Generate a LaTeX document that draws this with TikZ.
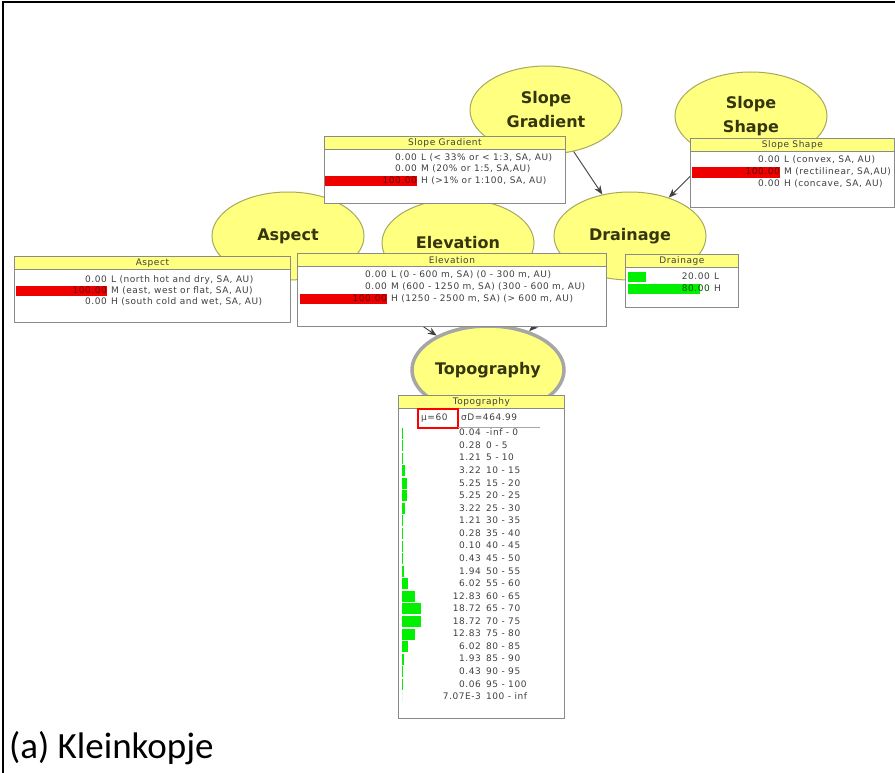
\documentclass[tikz,border=0pt]{standalone}
\usepackage{fontspec}
\setmainfont{DejaVu Sans}
\newfontfamily\capfont{Carlito}
\newfontfamily\boxfont[LetterSpace=6]{DejaVu Sans}
\usetikzlibrary{shapes.geometric,arrows.meta}
\definecolor{bnfill}{HTML}{FFFF80}
\definecolor{bnline}{HTML}{A8A860}
\definecolor{boxline}{HTML}{8A8A8A}
\definecolor{txt}{HTML}{404040}
\definecolor{bntxt}{HTML}{36360E}
\definecolor{barred}{HTML}{EE0000}
\definecolor{bargreen}{HTML}{00F000}
\tikzset{
  bn/.style={ellipse, draw=bnline, fill=bnfill, line width=1pt, minimum width=152pt, minimum height=88pt,
    inner sep=0pt, align=center, text=bntxt, font=\bfseries\fontsize{16}{24}\selectfont},
  topo/.style={draw=gray!70, line width=3.5pt},
  arr/.style={draw=black!75, line width=0.9pt, -{Stealth[length=9pt,width=7pt]}},
  boxbody/.style={draw=boxline, fill=white, line width=0.9pt, inner sep=0pt, anchor=north west},
  titlebar/.style={draw=boxline, fill=bnfill, line width=0.8pt, inner sep=0pt, anchor=north west,
    minimum height=13pt, text=txt, font=\boxfont\fontsize{9}{10}\selectfont},
  val/.style={anchor=mid east, inner sep=0pt, text=txt, font=\boxfont\fontsize{9}{10}\selectfont},
  lab/.style={anchor=mid west, inner sep=0pt, text=txt, font=\boxfont\fontsize{9}{10}\selectfont},
  redval/.style={val, text=black!60!red},
}
\newcommand{\netbox}[6]{%
  \node[boxbody, minimum width={(#4-#2)*1pt}, minimum height={(#5-#3)*1pt}] (#1) at (#2,#3) {};
  \node[titlebar, minimum width={(#4-#2)*1pt}] (#1-t) at (#2,#3) {#6};
}
\begin{document}
\begin{tikzpicture}[x=1pt,y=-1pt]
\useasboundingbox (0,0) rectangle (895,773);
\fill[white] (0,0) rectangle (895,773);
\draw[black, line width=2pt] (2.5,773) -- (2.5,2.5) -- (895,2.5);

% ellipses
\node[bn] (sg) at (546,110) {Slope\\Gradient};
\node[bn] (ss) at (751,116) {Slope\\Shape};
\node[bn] (asp) at (288,236) {Aspect};
\node[bn] (ele) at (458,243) {Elevation};
\node[bn] (dra) at (630,236) {Drainage};
\node[bn, topo] (top) at (488,370) {Topography};

% connectors
\draw[arr] (sg) -- (dra);
\draw[arr] (ss) -- (dra);
\draw[arr] (asp) -- (top);
\draw[arr] (ele) -- (top);
\draw[arr] (dra) -- (top);

% Slope Gradient box
\netbox{sgb}{324}{136}{565}{203}{Slope Gradient}
\fill[barred] (325,176) rectangle (417,186);
\node[val] (sgv1) at (417,158) {0.00}; \node[lab] (sgl1) at (421,158) {L (< 33\% or < 1:3, SA, AU)};
\node[val] (sgv2) at (417,169) {0.00}; \node[lab] (sgl2) at (421,169) {M (20\% or 1:5, SA,AU)};
\node[redval] (sgv3) at (417,181) {100.00}; \node[lab] (sgl3) at (421,181) {H (>1\% or 1:100, SA, AU)};

% Slope Shape box
\netbox{ssb}{690}{138}{894}{207}{Slope Shape}
\fill[barred] (692,167) rectangle (780,178);
\node[val] (ssv1) at (780,160) {0.00}; \node[lab] (ssl1) at (784,160) {L (convex, SA, AU)};
\node[redval] (ssv2) at (780,172) {100.00}; \node[lab] (ssl2) at (784,172) {M (rectilinear, SA,AU)};
\node[val] (ssv3) at (780,184) {0.00}; \node[lab] (ssl3) at (784,184) {H (concave, SA, AU)};

% Aspect box
\netbox{aspb}{14}{256}{290}{322}{Aspect}
\fill[barred] (16,286) rectangle (107,296);
\node[val] (av1) at (107,280) {0.00}; \node[lab] (al1) at (111,280) {L (north hot and dry, SA, AU)};
\node[redval] (av2) at (107,291) {100.00}; \node[lab] (al2) at (111,291) {M (east, west or flat, SA, AU)};
\node[val] (av3) at (107,302) {0.00}; \node[lab] (al3) at (111,302) {H (south cold and wet, SA, AU)};

% Elevation box
\netbox{eleb}{297}{253}{606}{326}{Elevation}
\fill[barred] (300,294) rectangle (387,304);
\node[val] (ev1) at (387,275) {0.00}; \node[lab] (el1) at (391,275) {L (0 - 600 m, SA) (0 - 300 m, AU)};
\node[val] (ev2) at (387,287) {0.00}; \node[lab] (el2) at (391,287) {M (600 - 1250 m, SA) (300 - 600 m, AU)};
\node[redval] (ev3) at (387,299) {100.00}; \node[lab] (el3) at (391,299) {H (1250 - 2500 m, SA) (> 600 m, AU)};

% Drainage box
\netbox{drab}{625}{254}{738}{307}{Drainage}
\fill[bargreen] (628,272) rectangle (646,282);
\fill[bargreen] (628,284) rectangle (700,294);
\node[val] (dv1) at (710,277) {20.00}; \node[lab] (dl1) at (714,277) {L};
\node[val, text=black!70!green] (dv2) at (710,289) {80.00}; \node[lab] (dl2) at (714,289) {H};

% Topography box
\netbox{topb}{398}{395}{564}{718}{Topography}
\node[lab] (mu) at (421,418) {μ=60};
\draw[red, line width=1.5pt] (418,409) rectangle (458,428);
\node[lab] (sd) at (461,418) {σD=464.99};
\draw[gray!70, line width=0.7pt] (458,427) -- (540,427);
\foreach \v/\l/\p [count=\i] in {
  0.04/{-inf - 0}/0.04, 0.28/{0 - 5}/0.28, 1.21/{5 - 10}/1.21, 3.22/{10 - 15}/3.22,
  5.25/{15 - 20}/5.25, 5.25/{20 - 25}/5.25, 3.22/{25 - 30}/3.22, 1.21/{30 - 35}/1.21,
  0.28/{35 - 40}/0.28, 0.10/{40 - 45}/0.10, 0.43/{45 - 50}/0.43, 1.94/{50 - 55}/1.94,
  6.02/{55 - 60}/6.02, 12.83/{60 - 65}/12.83, 18.72/{65 - 70}/18.72, 18.72/{70 - 75}/18.72,
  12.83/{75 - 80}/12.83, 6.02/{80 - 85}/6.02, 1.93/{85 - 90}/1.93, 0.43/{90 - 95}/0.43,
  0.06/{95 - 100}/0.06, 7.07E-3/{100 - inf}/0.007}{
  \pgfmathsetmacro{\yy}{433+(\i-1)*12.57}
  \fill[bargreen] (402,\yy-5.5) rectangle ({402+\p},\yy+5.5);
  \node[val] (tv\i) at (481,\yy) {\v};
  \node[lab] (tl\i) at (486,\yy) {\l};
}

% caption
\node[anchor=base west, inner sep=0pt, font=\capfont\fontsize{37}{40}\selectfont] (cap) at (9,758) {(a) Kleinkopje};
\end{tikzpicture}
\end{document}
